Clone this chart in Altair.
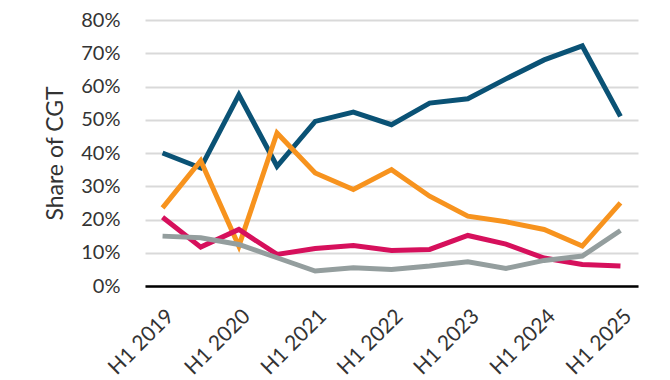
import altair as alt
import pandas as pd

periods = ["H1 2019", "H2 2019", "H1 2020", "H2 2020", "H1 2021", "H2 2021",
           "H1 2022", "H2 2022", "H1 2023", "H2 2023", "H1 2024", "H2 2024", "H1 2025"]
blue = [0.40, 0.355, 0.575, 0.36, 0.495, 0.523, 0.485, 0.55, 0.563, 0.623, 0.68, 0.722, 0.51]
orange = [0.235, 0.377, 0.12, 0.46, 0.34, 0.29, 0.35, 0.27, 0.21, 0.193, 0.17, 0.12, 0.25]
pink = [0.207, 0.117, 0.17, 0.095, 0.113, 0.122, 0.107, 0.11, 0.152, 0.126, 0.084, 0.065, 0.06]
gray = [0.15, 0.145, 0.125, 0.085, 0.045, 0.055, 0.05, 0.06, 0.073, 0.053, 0.077, 0.09, 0.167]

series_names = ["Blue", "Orange", "Pink", "Gray"]
series_colors = ["#0A5275", "#F7931E", "#D6105C", "#949E9E"]
x_labels = ["H1 2019", "H1 2020", "H1 2021", "H1 2022", "H1 2023", "H1 2024", "H1 2025"]

rows = []
for name, vals in zip(series_names, [blue, orange, pink, gray]):
    for i, (p, v) in enumerate(zip(periods, vals)):
        rows.append({"period": p, "series": name, "value": v, "order": i})
df = pd.DataFrame(rows)

chart = alt.Chart(df).mark_line(strokeWidth=5, strokeJoin="miter").encode(
    x=alt.X("period:O", sort=periods,
            scale=alt.Scale(type="point", padding=0.46),
            axis=alt.Axis(title=None, values=x_labels, labelAngle=-45, labelAlign="right",
                          labelBaseline="top", labelPadding=19, ticks=False,
                          domainColor="#000000", domainWidth=2.5,
                          labelFont="Lato", labelFontSize=21, labelColor="#333333")),
    y=alt.Y("value:Q", scale=alt.Scale(domain=[0, 0.8], nice=False),
            axis=alt.Axis(title="Share of CGT", format=".0%", values=[i / 10 for i in range(9)],
                          ticks=False, domain=False, grid=True, gridColor="#D9D9D9", gridWidth=2,
                          labelPadding=25, labelFont="Lato", labelFontSize=20, labelColor="#333333",
                          titleFont="Lato", titleFontSize=23, titleFontWeight="normal",
                          titleColor="#333333", titlePadding=13)),
    color=alt.Color("series:N", sort=series_names,
                    scale=alt.Scale(domain=series_names, range=series_colors), legend=None),
    order=alt.Order("order:Q"),
).properties(
    width=493, height=266,
    autosize=alt.AutoSizeParams(type="none"),
    padding={"left": 137, "top": 12, "right": 24, "bottom": 92},
).configure_view(stroke=None)

chart.save("out.html", embed_options={"renderer": "svg", "actions": False})
